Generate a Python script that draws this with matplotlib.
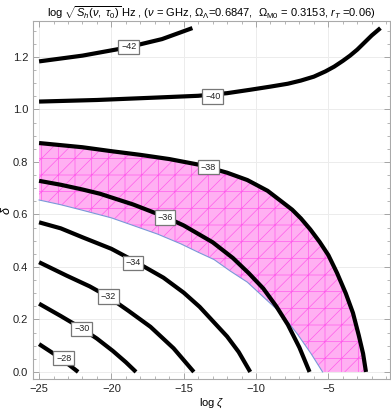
#!/usr/bin/env python3
import matplotlib
matplotlib.use("Agg")
import numpy as np
import matplotlib.pyplot as plt
from matplotlib.ticker import MultipleLocator

plt.rcParams['font.family'] = ['Liberation Sans', 'DejaVu Sans']
plt.rcParams['mathtext.fontset'] = 'custom'
plt.rcParams['mathtext.rm'] = 'Liberation Sans'
plt.rcParams['mathtext.it'] = 'Liberation Sans:italic'
plt.rcParams['hatch.linewidth'] = 0.5

# contour lines of log sqrt(S_h) (x = log zeta, y = delta)
c42_x = [-25, -22, -19, -16.5, -14.4]
c42_y = [1.183, 1.205, 1.235, 1.268, 1.31]
c40_x = [-25, -21, -17, -14, -12, -10.4, -9, -7.8, -6.9, -6, -5.2, -4.6, -4.0, -3.5, -3.0, -2.5, -2.0, -1.4]
c40_y = [1.030, 1.036, 1.045, 1.052, 1.062, 1.075, 1.087, 1.098, 1.11, 1.125, 1.145, 1.163,
         1.185, 1.205, 1.228, 1.255, 1.282, 1.31]
c38_x = [-25, -22, -20, -18, -16, -14, -12, -10.6, -9.2, -8.3, -7.5, -6.9, -6.25, -5.6, -5.0,
         -4.4, -3.8, -3.3, -2.9, -2.6, -2.4]
c38_y = [0.872, 0.856, 0.841, 0.827, 0.811, 0.790, 0.759, 0.731, 0.690, 0.652, 0.618, 0.585,
         0.543, 0.495, 0.445, 0.377, 0.30, 0.225, 0.14, 0.07, 0.0]
c36_x = [-25, -23.5, -22, -20.8, -18.5, -16.3, -15, -13, -11.6, -10.5, -9.5, -8.6, -7.8, -7.0, -6.3]
c36_y = [0.728, 0.713, 0.695, 0.679, 0.638, 0.591, 0.558, 0.494, 0.434, 0.376, 0.318, 0.25,
         0.18, 0.093, 0.0]
c34_x = [-25, -23.5, -22, -20, -18.5, -16.4, -15, -13.9, -12, -11.2, -10.4]
c34_y = [0.570, 0.547, 0.513, 0.469, 0.425, 0.359, 0.302, 0.248, 0.135, 0.076, 0.0]
c32_x = [-25, -23.1, -21.5, -20.2, -18.8, -17.3, -15.7, -15, -14.3]
c32_y = [0.418, 0.367, 0.326, 0.286, 0.232, 0.172, 0.09, 0.045, 0.0]
c30_x = [-25, -23.5, -22, -21, -19.9, -19, -18.3]
c30_y = [0.26, 0.213, 0.164, 0.127, 0.08, 0.037, 0.0]
c28_x = [-25, -24, -23, -22.3]
c28_y = [0.106, 0.07, 0.03, 0.0]

# lower edge of the allowed (pink) band
low_x = [-25, -23.5, -22, -20, -18.5, -16.8, -15.2, -14, -12.9, -11.8, -10.6, -9.5, -8.3,
         -7.15, -6.2, -5.4]
low_y = [0.655, 0.637, 0.616, 0.587, 0.558, 0.525, 0.488, 0.456, 0.428, 0.385, 0.342, 0.286,
         0.225, 0.145, 0.07, 0.0]

lines = [(c42_x, c42_y), (c40_x, c40_y), (c38_x, c38_y), (c36_x, c36_y),
         (c34_x, c34_y), (c32_x, c32_y), (c30_x, c30_y), (c28_x, c28_y)]
levels = ["\u221242", "\u221240", "\u221238", "\u221236", "\u221234", "\u221232", "\u221230", "\u221228"]
label_x = [-18.8, -13.0, -13.3, -16.3, -18.5, -20.2, -22.05, -23.3]
label_y = [1.238, 1.049, 0.78, 0.589, 0.416, 0.287, 0.164, 0.052]

fig = plt.figure(figsize=(3.91, 4.09), dpi=100)
ax = fig.add_axes([0.0844, 0.0733, 0.9126, 0.8754])

# pink band between the lower edge and the -38 line
xs = np.linspace(-25, -2.4, 400)
top = np.interp(xs, c38_x, c38_y)
bot = np.interp(xs, low_x, low_y)
ax.fill_between(xs, bot, top, where=top >= bot, facecolor='#FFB0F2',
                edgecolor='#FF5CEB', hatch='+//', linewidth=0, zorder=1)
ax.plot(low_x, low_y, color='#7A9AD8', lw=0.8, zorder=2)

for (x, y) in lines:
    ax.plot(x, y, color='black', lw=3, solid_capstyle='butt', solid_joinstyle='round', zorder=3)

for t, lx, ly in zip(levels, label_x, label_y):
    ax.text(lx, ly, t, fontsize=6.5, ha='center', va='center', zorder=4, color='#222222',
            bbox=dict(boxstyle='square,pad=0.3', fc='white', ec='#777777', lw=0.9))

ax.set_xlim(-25.42, -0.75)
ax.set_ylim(-0.027, 1.337)
ax.xaxis.set_major_locator(MultipleLocator(5))
ax.xaxis.set_minor_locator(MultipleLocator(1))
ax.yaxis.set_major_locator(MultipleLocator(0.2))
ax.yaxis.set_minor_locator(MultipleLocator(0.05))
ax.yaxis.set_major_formatter(plt.FuncFormatter(lambda v, p: f"{v:.1f}"))
ax.xaxis.set_major_formatter(plt.FuncFormatter(lambda v, p: f"{int(round(v))}".replace('-', '\u2212')))
ax.tick_params(which='both', direction='in', top=True, right=True, color='#999999',
               labelsize=8, labelcolor='#222222')
ax.tick_params(which='major', length=4, width=0.6)
ax.tick_params(which='minor', length=2, width=0.5)
ax.grid(True, which='major', color='#ECECEC', lw=0.7, zorder=0)
ax.set_axisbelow(True)
for s in ax.spines.values():
    s.set_color('#AAAAAA')
    s.set_linewidth(0.8)

ax.set_xlabel(r"log $\zeta$", fontsize=8, labelpad=2)
ax.set_ylabel(r"$\delta$", fontsize=9)
ax.yaxis.set_label_coords(-0.055, 0.47)
ax.set_title(r"log $\sqrt{S_h(\nu,\ \tau_0)}\,$Hz , ($\nu$ = GHz, $\Omega_\Lambda$=0.6847,  "
             r"$\Omega_{\rm M0}$ = 0.3153, $r_T$ =0.06)", fontsize=8, pad=3)

fig.savefig("out.png", dpi=100)
